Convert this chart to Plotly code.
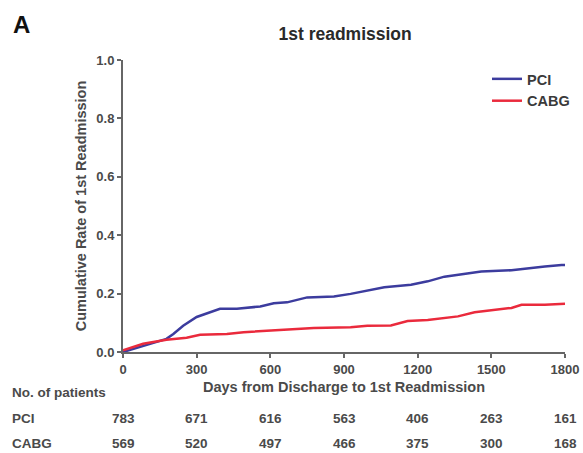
import plotly.graph_objects as go

# Data
pci_days = [0, 60, 120, 177, 205, 245, 300, 355, 395, 464, 559, 614, 668, 750, 859, 927, 1009, 1064, 1173, 1241, 1309, 1377, 1459, 1582, 1650, 1718, 1786, 1800]
pci_rate = [0.0, 0.015, 0.03, 0.045, 0.062, 0.09, 0.12, 0.136, 0.148, 0.148, 0.156, 0.167, 0.17, 0.187, 0.19, 0.199, 0.212, 0.222, 0.23, 0.242, 0.258, 0.267, 0.276, 0.28, 0.287, 0.293, 0.298, 0.298]
cabg_days = [0, 20, 82, 177, 259, 314, 423, 491, 627, 777, 927, 995, 1091, 1159, 1241, 1364, 1432, 1514, 1582, 1623, 1718, 1800]
cabg_rate = [0.006, 0.012, 0.028, 0.042, 0.049, 0.059, 0.062, 0.068, 0.074, 0.082, 0.085, 0.09, 0.091, 0.106, 0.11, 0.122, 0.136, 0.144, 0.151, 0.162, 0.162, 0.165]

risk_days = [0, 300, 600, 900, 1200, 1500, 1800]
pci_at_risk = [783, 671, 616, 563, 406, 263, 161]
cabg_at_risk = [569, 520, 497, 466, 375, 300, 168]

PCI_COLOR = "#3c3c9e"
CABG_COLOR = "#ea2a3c"
FONT = "Liberation Sans, Arial, sans-serif"
TXT = "#4a4a4a"
AX = "#666666"

fig = go.Figure()
fig.add_trace(go.Scatter(x=pci_days, y=pci_rate, mode="lines", name="PCI",
                         line=dict(color=PCI_COLOR, width=2.5, shape="linear")))
fig.add_trace(go.Scatter(x=cabg_days, y=cabg_rate, mode="lines", name="CABG",
                         line=dict(color=CABG_COLOR, width=2.5, shape="linear")))

ann = []
ann.append(dict(text="<b>A</b>", xref="paper", yref="paper", x=-0.253, y=1.123,
                xanchor="left", yanchor="middle", showarrow=False,
                font=dict(size=24, color="#111", family=FONT)))
ann.append(dict(text="<b>No. of patients</b>", xref="paper", yref="paper", x=-0.255, y=-0.140,
                xanchor="left", yanchor="middle", showarrow=False,
                font=dict(size=13.5, color=TXT, family=FONT)))
for label, vals, yy in [("PCI", pci_at_risk, -0.229), ("CABG", cabg_at_risk, -0.312)]:
    ann.append(dict(text="<b>" + label + "</b>", xref="paper", yref="paper", x=-0.255, y=yy,
                    xanchor="left", yanchor="middle", showarrow=False,
                    font=dict(size=13.5, color=TXT, family=FONT)))
    for d, v in zip(risk_days, vals):
        ann.append(dict(text="<b>" + str(v) + "</b>", xref="x", yref="paper", x=d, y=yy,
                        xanchor="center", yanchor="middle", showarrow=False, xshift=0,
                        font=dict(size=13.5, color=TXT, family=FONT)))

fig.update_layout(
    width=583, height=453,
    margin=dict(l=123, r=18, t=60, b=101, autoexpand=False),
    paper_bgcolor="white", plot_bgcolor="white",
    font=dict(family=FONT, size=13, color=TXT),
    title=dict(text="<b>1st readmission</b>", x=0.592, xanchor="center", y=0.925, yanchor="middle",
               font=dict(size=17.5, color="#2a2a2a", family=FONT)),
    showlegend=True,
    legend=dict(x=0.8235, y=0.99, xanchor="left", yanchor="top", bgcolor="rgba(0,0,0,0)",
                font=dict(size=14.5, color="#3a3a3a", family=FONT, weight="bold"),
                itemwidth=30, tracegroupgap=2),
    annotations=ann,
    xaxis=dict(range=[0, 1800], tickvals=risk_days, showgrid=False, zeroline=False,
               showline=True, linecolor=AX, linewidth=2, ticks="outside", ticklen=4,
               tickwidth=1.5, tickcolor=AX, automargin=False,
               tickfont=dict(size=13, color=TXT, family=FONT, weight="bold"),
               title=dict(text="Days from Discharge to 1st Readmission", standoff=6,
                          font=dict(size=14.5, color=TXT, family=FONT, weight="bold"))),
    yaxis=dict(range=[0, 1.0], tickvals=[0, 0.2, 0.4, 0.6, 0.8, 1.0], tickformat=".1f",
               showgrid=False, zeroline=False, showline=True, linecolor=AX, linewidth=2,
               ticks="outside", ticklen=4, tickwidth=1.5, tickcolor=AX, automargin=False,
               tickfont=dict(size=13, color=TXT, family=FONT, weight="bold"),
               title=dict(text="Cumulative Rate of 1st Readmission", standoff=6,
                          font=dict(size=14.5, color=TXT, family=FONT, weight="bold"))),
)

fig.write_html("out.html")
